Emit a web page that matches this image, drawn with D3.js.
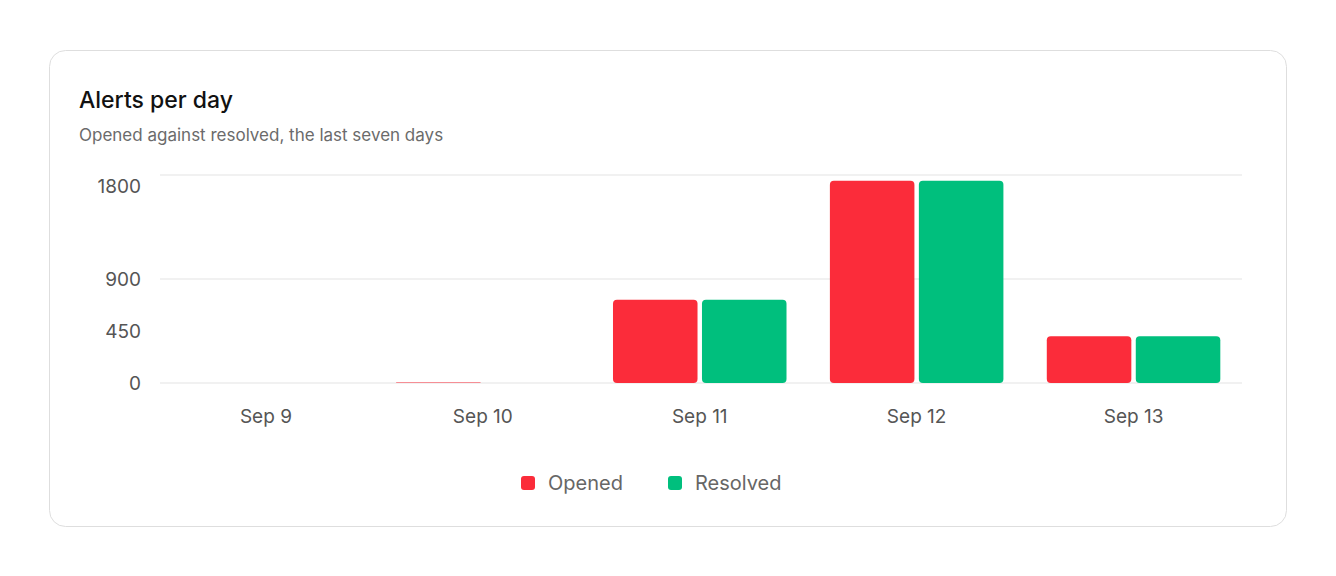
<!DOCTYPE html><html><head><meta charset="utf-8">
<script src="https://cdn.jsdelivr.net/npm/d3@7"></script>
<style>body{margin:0;background:#fff;font-family:Inter,"Noto Sans",sans-serif;}</style></head><body>
<svg id="c" width="1336" height="576"></svg>
<script>
const categories=["Sep 9","Sep 10","Sep 11","Sep 12","Sep 13"];
const opened=[0,5,720,1750,405];
const resolved=[0,0,720,1750,405];
const seriesNames=["Opened","Resolved"];
const colors=["#fb2c3a","#00bf7d"];
const yTicks=[0,450,900,1800];
const gridTicks=[0,900,1800];

const svg=d3.select("#c");
svg.append("rect").attr("x",49.5).attr("y",50.5).attr("width",1237).attr("height",476).attr("rx",16)
 .attr("fill","#fff").attr("stroke","#dedede");
svg.append("text").attr("x",79).attr("y",108).attr("font-size",23).attr("font-weight",500).attr("fill","#111").text("Alerts per day");
svg.append("text").attr("x",79).attr("y",141).attr("font-size",17).attr("fill","#6b6b6b").text("Opened against resolved, the last seven days");

const x=d3.scaleBand().domain(categories).range([157.5,1242]).paddingInner(0.2).paddingOuter(0.1);
const y=d3.scaleLinear().domain([0,1800]).range([383,175]);
const x1=d3.scaleBand().domain(seriesNames).range([0,x.bandwidth()]).paddingInner(0.05);

svg.append("g").selectAll("line").data(gridTicks).join("line")
 .attr("x1",160).attr("x2",1242).attr("y1",d=>y(d)).attr("y2",d=>y(d)).attr("stroke","#ececec").attr("stroke-width",1.5);
svg.append("g").selectAll("text").data(yTicks).join("text")
 .attr("x",141).attr("y",d=>Math.max(y(d),186)).attr("dy","0.35em").attr("text-anchor","end")
 .attr("font-size",19).attr("fill","#555").text(d=>d);

const data=[opened,resolved];
seriesNames.forEach((s,si)=>{
 svg.append("g").selectAll("rect").data(categories).join("rect")
  .attr("x",c=>x(c)+x1(s)).attr("width",x1.bandwidth())
  .attr("y",(c,i)=>y(data[si][i])).attr("height",(c,i)=>y(0)-y(data[si][i]))
  .attr("rx",(c,i)=>Math.min(4,(y(0)-y(data[si][i]))/2)).attr("fill",colors[si]);
});
svg.append("g").selectAll("text").data(categories).join("text")
 .attr("x",c=>x(c)+x.bandwidth()/2).attr("y",416).attr("dy","0.35em").attr("text-anchor","middle")
 .attr("font-size",19).attr("fill","#555").text(c=>c);

const lx=[521,668];
seriesNames.forEach((s,i)=>{
 svg.append("rect").attr("x",lx[i]).attr("y",476).attr("width",14).attr("height",14).attr("rx",3).attr("fill",colors[i]);
 svg.append("text").attr("x",lx[i]+27).attr("y",483).attr("dy","0.35em").attr("font-size",20).attr("fill","#666").text(s);
});
</script></body></html>
